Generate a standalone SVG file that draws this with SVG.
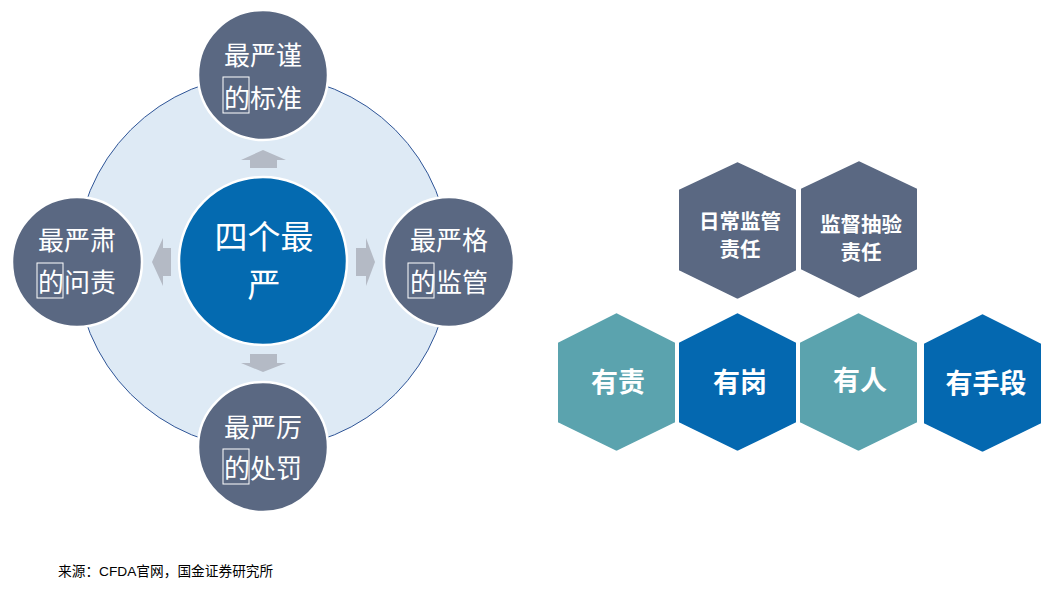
<svg xmlns="http://www.w3.org/2000/svg" width="1049" height="597" viewBox="0 0 1049 597">
<style>
.sm{fill:#5A6882;stroke:#FFFFFF;stroke-width:2.5}
.ct{font-family:"Noto Sans CJK SC","Microsoft YaHei",sans-serif;fill:#FFFFFF;text-anchor:middle}
.c27{font-size:26px}
.c33{font-size:33px}
.hx{font-family:"Noto Sans CJK SC",sans-serif;font-weight:bold;fill:#FFFFFF;text-anchor:middle}
.arr{fill:#B4BAC5}
.box{fill:none;stroke:#FFFFFF;stroke-width:1}
.hs{fill:#5A6882;stroke:#FFFFFF;stroke-width:2}
.ht{fill:#5BA3AE;stroke:#FFFFFF;stroke-width:2}
.hb{fill:#0468B0;stroke:#FFFFFF;stroke-width:2}
</style>
<rect width="1049" height="597" fill="#FFFFFF"/>
<g id="ring">
<circle cx="263" cy="262" r="187" fill="#DEEAF5" stroke="#2F5597" stroke-width="1"/>
</g>
<g id="connectors">
<polygon class="arr" points="263,150 286,160 277,160 277,168 250,168 250,160 241,160"/>
<polygon class="arr" points="263,372 286,363 277,363 277,354 250,354 250,363 241,363"/>
<polygon class="arr" points="152,262 163,238 163,248 171,248 171,276 163,276 163,286"/>
<polygon class="arr" points="375,262 366,238 366,248 356,248 356,276 366,276 366,286"/>
</g>
<g id="center">
<circle cx="263" cy="261" r="84" fill="#046AB0" stroke="#FFFFFF" stroke-width="2.5"/>
<text class="ct c33" x="264" y="249">四个最</text>
<text class="ct c33" x="264" y="297">严</text>
</g>
<g id="top">
<circle class="sm" cx="263" cy="75" r="65"/>
<text class="ct c27" x="263" y="65">最严谨</text>
<text class="ct c27" x="263" y="108">的标准</text>
<rect class="box" x="223" y="77" width="26" height="36"/>
</g>
<g id="left">
<circle class="sm" cx="77" cy="262" r="65"/>
<text class="ct c27" x="77" y="250">最严肃</text>
<text class="ct c27" x="77" y="292">的问责</text>
<rect class="box" x="37" y="263" width="26" height="35"/>
</g>
<g id="right">
<circle class="sm" cx="449" cy="262" r="65"/>
<text class="ct c27" x="449" y="250">最严格</text>
<text class="ct c27" x="449" y="292">的监管</text>
<rect class="box" x="408" y="263" width="26" height="35"/>
</g>
<g id="bottom">
<circle class="sm" cx="263" cy="447" r="65"/>
<text class="ct c27" x="263" y="437">最严厉</text>
<text class="ct c27" x="263" y="478">的处罚</text>
<rect class="box" x="223" y="449" width="26" height="35"/>
</g>
<g id="hex-daily">
<polygon class="hs" points="737.5,161 797,189 797,271 737.5,300 678,271 678,189"/>
<text class="hx" font-size="20.5" x="740" y="229">日常监管</text>
<text class="hx" font-size="20.5" x="740" y="257">责任</text>
</g>
<g id="hex-check">
<polygon class="hs" points="859,160 918,188 918,270 859,299 800,270 800,188"/>
<text class="hx" font-size="20.5" x="861" y="232">监督抽验</text>
<text class="hx" font-size="20.5" x="861" y="260">责任</text>
</g>
<g id="hex-zr">
<polygon class="ht" points="616.5,312 676,342 676,423 616.5,452 557,423 557,342"/>
<text class="hx" font-size="27" x="618" y="392">有责</text>
</g>
<g id="hex-gw">
<polygon class="hb" points="737.5,312 797,342 797,423 737.5,452 678,423 678,342"/>
<text class="hx" font-size="27" x="740" y="392">有岗</text>
</g>
<g id="hex-r">
<polygon class="ht" points="858.5,312 918,342 918,423 858.5,452 799,423 799,342"/>
<text class="hx" font-size="27" x="860" y="390">有人</text>
</g>
<g id="hex-sd">
<polygon class="hb" points="982.5,313 1042,343 1042,424 982.5,453 923,424 923,343"/>
<text class="hx" font-size="27" x="986" y="393">有手段</text>
</g>
<text x="58" y="576" font-family="'Liberation Sans','Noto Sans CJK SC',sans-serif" font-size="13.7" fill="#000000">来源：CFDA官网，国金证券研究所</text>
</svg>
